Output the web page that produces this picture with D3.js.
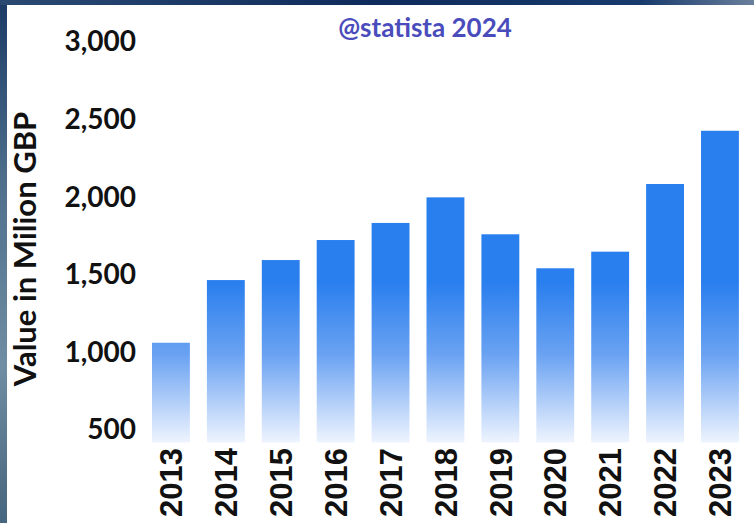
<!DOCTYPE html>
<html>
<head>
<meta charset="utf-8">
<script src="https://cdn.jsdelivr.net/npm/d3@7"></script>
<style>
  html, body { margin: 0; padding: 0; background: #1d3558; }
  svg { display: block; }
</style>
</head>
<body>
<svg id="chart" width="754" height="523"></svg>
<script>
// Annual value, million GBP
const years = ["2013", "2014", "2015", "2016", "2017", "2018", "2019", "2020", "2021", "2022", "2023"];
const values = [1062, 1466, 1595, 1724, 1834, 1999, 1761, 1542, 1649, 2085, 2428];
const tickValues = [500, 1000, 1500, 2000, 2500, 3000];
const yTitle = "Value in Milion GBP";
const watermark = "@statista 2024";

const W = 754, H = 523;
const svg = d3.select("#chart");
const defs = svg.append("defs");

// framing background: dark navy band on top, textured grey-blue strip on the left
const bgGrad = defs.append("linearGradient").attr("id", "bgGrad")
  .attr("x1", 0).attr("y1", 0).attr("x2", 0).attr("y2", 1);
bgGrad.append("stop").attr("offset", 0).attr("stop-color", "#1b3a66");
bgGrad.append("stop").attr("offset", 0.35).attr("stop-color", "#4f6f8c");
bgGrad.append("stop").attr("offset", 0.7).attr("stop-color", "#6f8ea3");
bgGrad.append("stop").attr("offset", 1).attr("stop-color", "#46657e");
svg.append("rect").attr("width", W).attr("height", H).attr("fill", "url(#bgGrad)");

const topGrad = defs.append("linearGradient").attr("id", "topGrad")
  .attr("x1", 0).attr("y1", 0).attr("x2", 1).attr("y2", 0);
topGrad.append("stop").attr("offset", 0).attr("stop-color", "#2a4a72");
topGrad.append("stop").attr("offset", 0.5).attr("stop-color", "#0f2a5c");
topGrad.append("stop").attr("offset", 0.85).attr("stop-color", "#173a6c");
topGrad.append("stop").attr("offset", 1).attr("stop-color", "#6a7f9c");
svg.append("rect").attr("width", W).attr("height", 5).attr("fill", "url(#topGrad)");

// white chart panel
svg.append("rect").attr("x", 7).attr("y", 5).attr("width", W - 7).attr("height", H - 5)
  .attr("fill", "#ffffff");

// scales
const x = d3.scaleBand().domain(years).range([146.5, 744.4])
  .paddingInner(0.31).paddingOuter(0.1);
const y = d3.scaleLinear().domain([420, 3000]).range([442.4, 42]);

// vertical fade shared by all bars (solid blue above, fading to white at the base)
const barGrad = defs.append("linearGradient").attr("id", "barGrad")
  .attr("gradientUnits", "userSpaceOnUse")
  .attr("x1", 0).attr("x2", 0)
  .attr("y1", y(1450)).attr("y2", y(420));
barGrad.append("stop").attr("offset", 0).attr("stop-color", "#2a7fee");
barGrad.append("stop").attr("offset", 0.45).attr("stop-color", "#6aa2f2");
barGrad.append("stop").attr("offset", 1).attr("stop-color", "#eef4fe");

svg.append("g").selectAll("rect")
  .data(years.map((yr, i) => ({ year: yr, value: values[i] })))
  .join("rect")
  .attr("x", d => x(d.year))
  .attr("width", x.bandwidth())
  .attr("y", d => y(d.value))
  .attr("height", d => y(420) - y(d.value))
  .attr("fill", "url(#barGrad)");

// y axis: labels only
const yAxis = d3.axisLeft(y).tickValues(tickValues).tickFormat(d3.format(",")).tickSize(0).tickPadding(0);
const gy = svg.append("g").attr("transform", "translate(136,0)").call(yAxis);
gy.select(".domain").remove();
gy.selectAll("text")
  .attr("font-family", "Lato, 'Open Sans', sans-serif")
  .attr("font-weight", 700)
  .attr("font-size", 28)
  .attr("fill", "#111");

// x axis: rotated year labels
const xAxis = d3.axisBottom(x).tickSize(0).tickPadding(0);
const gx = svg.append("g").attr("transform", "translate(0,448)").call(xAxis);
gx.select(".domain").remove();
gx.selectAll("text")
  .attr("transform", "rotate(-90)")
  .attr("text-anchor", "end")
  .attr("x", 0).attr("y", 0)
  .attr("dy", "0.36em")
  .attr("font-family", "'Liberation Sans', Arial, sans-serif")
  .attr("font-weight", 700)
  .attr("font-size", 31)
  .attr("fill", "#111");

// y axis title
svg.append("text")
  .attr("transform", "translate(36,249) rotate(-90)")
  .attr("text-anchor", "middle")
  .attr("font-family", "Lato, 'Open Sans', sans-serif")
  .attr("font-weight", 700)
  .attr("font-size", 31)
  .attr("fill", "#111")
  .text(yTitle);

// watermark
svg.append("text")
  .attr("x", 425).attr("y", 37)
  .attr("text-anchor", "middle")
  .attr("font-family", "Lato, 'Open Sans', sans-serif")
  .attr("font-weight", 700)
  .attr("font-size", 26)
  .attr("fill", "#4a4cbc")
  .text(watermark);
</script>
</body>
</html>
